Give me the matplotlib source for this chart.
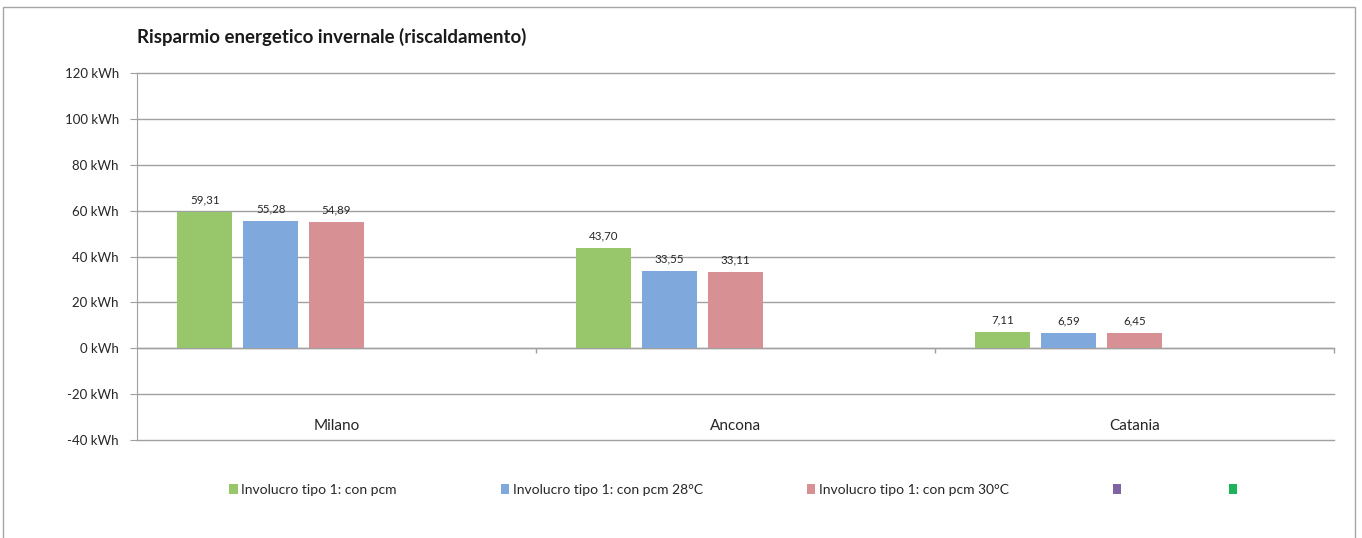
import matplotlib
matplotlib.use("Agg")
import matplotlib.pyplot as plt
from matplotlib.patches import Patch, Rectangle
import numpy as np

# Data
cities = ["Milano", "Ancona", "Catania"]
series_names = ["Involucro tipo 1: con pcm",
                "Involucro tipo 1: con pcm 28°C",
                "Involucro tipo 1: con pcm 30°C",
                "", ""]
pcm = [59.31, 43.70, 7.11]
pcm_28 = [55.28, 33.55, 6.59]
pcm_30 = [54.89, 33.11, 6.45]
empty_a = []
empty_b = []
series_values = [pcm, pcm_28, pcm_30, empty_a, empty_b]
colors = ["#98C66B", "#7FA9DC", "#D79093", "#8064A2", "#1DB35B"]
y_ticks = [-40, -20, 0, 20, 40, 60, 80, 100, 120]

plt.rcParams['font.family'] = ['Lato', 'DejaVu Sans']

fig = plt.figure(figsize=(13.62, 5.38), dpi=100)
# outer chart border
fig.patches.append(Rectangle((3 / 1362, -0.01), 1352 / 1362, 0.997, transform=fig.transFigure,
                             fill=False, edgecolor="#A6A6A6", linewidth=1.0))

ax = fig.add_axes([137 / 1362, 98 / 538, 1197 / 1362, 367 / 538])
x = np.arange(len(cities))
slot = 0.165
width = 0.1375

for k, (vals, col, name) in enumerate(zip(series_values, colors, series_names)):
    if len(vals) == 0:
        continue
    offs = (k - 2) * slot
    bars = ax.bar(x + offs, vals, width, color=col, zorder=3)
    ax.bar_label(bars, labels=[f"{v:.2f}".replace(".", ",") for v in vals],
                 padding=5, fontsize=8.3, color="#262626")

ax.set_xlim(-0.5, len(cities) - 0.5)
ax.set_ylim(-40, 120)
ax.set_yticks(y_ticks)
ax.set_yticklabels([f"{t} kWh" for t in y_ticks], fontsize=9.5, color="#262626")
ax.yaxis.grid(True, color="#A0A0A0", linewidth=1.0, zorder=0)
for gl in ax.get_ygridlines():
    gl.set_clip_on(False)
ax.tick_params(axis="y", length=5, color="#A0A0A0", pad=8)
ax.set_xticks([])
for s in ["top", "right", "bottom"]:
    ax.spines[s].set_visible(False)
ax.spines["left"].set_color("#A0A0A0")

# category axis at zero with tick marks between groups
ax.axhline(0, color="#A0A0A0", linewidth=1.0, zorder=2)
bounds = np.arange(len(cities) + 1) - 0.5
ax.vlines(bounds[1:], -2.2, 0, color="#A0A0A0", linewidth=1.0, zorder=2, clip_on=False)
for xi, name in zip(x, cities):
    ax.text(xi, -34, name, ha="center", va="center", fontsize=11, color="#262626")

fig.text(137 / 1362, 1 - 37 / 538, "Risparmio energetico invernale (riscaldamento)",
         fontsize=13.4, fontweight="bold", va="center", ha="left", color="#1a1a1a")

handles = [Patch(facecolor=c, edgecolor="none") for c in colors]
fig.legend(handles, series_names, loc="center", bbox_to_anchor=(735 / 1362, 1 - 490 / 538),
           ncol=5, frameon=False, fontsize=10, handlelength=0.6, handleheight=0.75,
           handletextpad=0.25, columnspacing=7.5, labelcolor="#262626")

fig.savefig("out.png", dpi=100)
